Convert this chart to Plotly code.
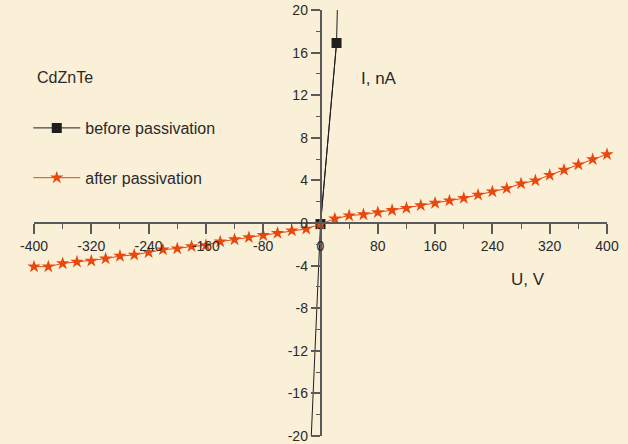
import plotly.graph_objects as go

# Voltage sweep (V) and measured current (nA) after passivation
u_after = list(range(-400, 401, 20))
i_after = [-4.1, -4.1, -3.8, -3.65, -3.55, -3.35, -3.1, -3.0, -2.75, -2.5,
           -2.4, -2.2, -2.1, -1.75, -1.55, -1.35, -1.15, -0.95, -0.72, -0.55,
           -0.1,
           0.4, 0.7, 0.8, 1.0, 1.2, 1.4, 1.65, 1.88, 2.1, 2.33,
           2.64, 2.95, 3.25, 3.7, 3.98, 4.5, 4.98, 5.48, 5.98, 6.45]

# Before passivation: measured points and the steep trend line through them
u_before = [0, 22.4]
i_before = [-0.1, 16.9]
u_before_line = [-13.2, 0, 22.4, 23.7]
i_before_line = [-20.5, -0.1, 16.9, 20.5]

x_ticks = list(range(-400, 401, 80))
y_ticks = list(range(-20, 21, 4))

BLACK = "#1e1e1e"
ORANGE = "#E8470E"
TEXT = "#2a2a2a"
AXIS = "#5a5a5a"
FONT = "Liberation Sans, Arial, sans-serif"

TOP, BOTTOM = 10, 8
PLOT_H = 444 - TOP - BOTTOM

fig = go.Figure()

fig.add_trace(go.Scatter(
    x=u_before_line, y=i_before_line, mode="lines",
    line=dict(color=BLACK, width=1), showlegend=False, hoverinfo="skip"))

fig.add_trace(go.Scatter(
    x=u_before, y=i_before, mode="lines+markers", name="before passivation",
    line=dict(color=BLACK, width=1),
    marker=dict(symbol="square", size=10, color=BLACK),
    legendgroup="a"))

fig.add_trace(go.Scatter(
    x=u_after, y=i_after, mode="lines+markers", name="after passivation",
    line=dict(color=ORANGE, width=1),
    marker=dict(symbol="star", size=10, color=ORANGE),
    cliponaxis=False, legendgroup="b"))

fig.update_layout(
    width=628, height=444,
    margin=dict(l=34, r=21, t=TOP, b=BOTTOM, autoexpand=False),
    paper_bgcolor="#FAF0D8", plot_bgcolor="rgba(0,0,0,0)",
    font=dict(family=FONT, color=TEXT, size=14),
    showlegend=True,
    legend=dict(
        x=-0.01, y=1 - (111 - TOP) / PLOT_H, xanchor="left", yanchor="top",
        bgcolor="rgba(0,0,0,0)", font=dict(size=16, color=TEXT),
        traceorder="grouped", tracegroupgap=26, itemwidth=47,
    ),
    xaxis=dict(
        range=[-400, 400], anchor="free", position=0.5,
        showgrid=False, zeroline=False, showline=True,
        linecolor=AXIS, linewidth=1.5,
        tickmode="array", tickvals=x_ticks, ticktext=[str(v) for v in x_ticks],
        ticks="outside", ticklen=10, tickwidth=1.5, tickcolor=AXIS,
        tickfont=dict(size=14, color=TEXT), ticklabeloverflow="allow",
        minor=dict(dtick=40, tick0=0, ticks="outside", ticklen=5,
                   tickwidth=1.2, tickcolor=AXIS, showgrid=False),
        automargin=False,
    ),
    yaxis=dict(
        range=[-20, 20], anchor="free", position=0.5,
        showgrid=False, zeroline=False, showline=True,
        linecolor=AXIS, linewidth=1.5,
        tickmode="array", tickvals=y_ticks, ticktext=[str(v) for v in y_ticks],
        ticks="outside", ticklen=9, tickwidth=1.5, tickcolor=AXIS,
        tickfont=dict(size=14, color=TEXT), ticklabeloverflow="allow",
        minor=dict(dtick=2, tick0=0, ticks="outside", ticklen=4,
                   tickwidth=1.2, tickcolor=AXIS, showgrid=False),
        automargin=False,
    ),
    annotations=[
        dict(x=81, y=13.6, xref="x", yref="y", text="I, nA", showarrow=False,
             font=dict(size=17, color=TEXT)),
        dict(x=290, y=-5.3, xref="x", yref="y", text="U, V", showarrow=False,
             font=dict(size=17, color=TEXT)),
        dict(x=(35 - 34) / 573, y=1 - (78 - TOP) / PLOT_H, xref="paper", yref="paper",
             text="CdZnTe", showarrow=False, xanchor="left", yanchor="middle",
             font=dict(size=16, color=TEXT)),
    ],
)

fig.write_html("out.html")
